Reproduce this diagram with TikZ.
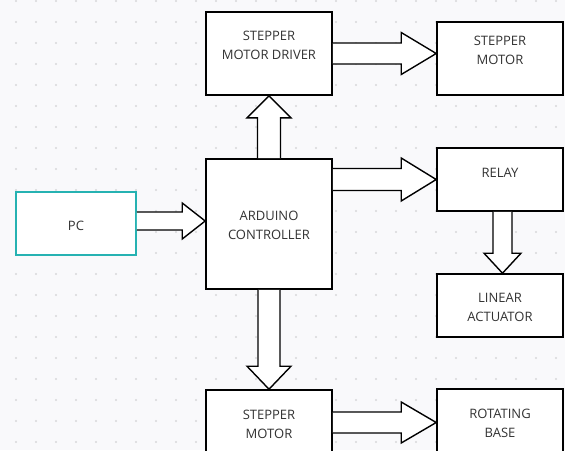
\documentclass[tikz,border=0pt]{standalone}
\usepackage{fontspec}
\setmainfont{Open Sans}
\usetikzlibrary{calc}

\definecolor{paper}{RGB}{249,249,251}
\definecolor{gridDot}{RGB}{215,215,218}
\definecolor{ink}{RGB}{51,51,51}
\definecolor{teal}{RGB}{38,178,178}

\tikzset{
    block/.style = {draw = black, line width = 1.6pt, fill = white, minimum width = 126pt, text = ink, align = center, font = \fontsize{13}{19}\selectfont, inner sep = 0pt},
    twoline/.style = {text height = 32pt},
    fatarrow/.style = {draw = black, line width = 1.4pt, fill = white, line join = miter}
}

% block arrow: from, to, shaft half width, head half width, head length
\newcommand{\fatarrow}[5]{%
    \coordinate (fa-h) at ($(#2)!#5!(#1)$);
    \draw[fatarrow] ($(#1)!#3!90:(#2)$) -- ($(fa-h)!#3!90:(#2)$) -- ($(fa-h)!#4!90:(#2)$) -- (#2)
        -- ($(fa-h)!#4!-90:(#2)$) -- ($(fa-h)!#3!-90:(#2)$) -- ($(#1)!#3!-90:(#2)$);
}

\begin{document}
\begin{tikzpicture}[x = 1pt, y = -1pt]
        \clip (0, 0) rectangle (565, 450);
        \fill[paper] (0, 0) rectangle (565, 450);
        \foreach \i in {0, ..., 27}
            \foreach \j in {0, ..., 21}
                \fill[gridDot] (16 + 20*\i, 1 + 21*\j) circle (1.1pt);

        \node[block, minimum height = 83pt, text depth = 17pt] (drv) at (269, 53.5) {STEPPER\\MOTOR DRIVER};
        \node[block, minimum height = 73pt, text depth = 16pt] (motor) at (500, 58.5) {STEPPER\\MOTOR};
        \node[block, draw = teal, minimum width = 120pt, minimum height = 63pt, text height = 15pt] (pc) at (76, 223.5) {PC};
        \node[block, twoline, minimum height = 130pt] (ard) at (269, 224) {ARDUINO\\CONTROLLER};
        \node[block, minimum height = 63pt, text depth = 13pt] (relay) at (500, 179.5) {RELAY};
        \node[block, twoline, minimum height = 63pt] (act) at (500, 305.5) {LINEAR\\ACTUATOR};
        \node[block, twoline, minimum height = 65pt] (stepper) at (269, 422.5) {STEPPER\\MOTOR};
        \node[block, twoline, minimum height = 66pt] (base) at (500, 422) {ROTATING\\BASE};

        \coordinate (pcout) at ([yshift = 2.5pt]pc.east);
        \coordinate (ardin) at (pcout -| ard.west);
        \coordinate (drvin) at (drv.east -| motor.west);
        \coordinate (ardout) at (relay.west -| ard.east);
        \coordinate (relayout) at ([xshift = 2.5pt]relay.south);
        \coordinate (actin) at (relayout |- act.north);
        \coordinate (basein) at (stepper.east -| base.west);

        \fatarrow{pcout}{ardin}{9pt}{18pt}{23pt}
        \fatarrow{ard.north}{drv.south}{11.5pt}{22pt}{22pt}
        \fatarrow{ard.south}{stepper.north}{11pt}{22pt}{23pt}
        \fatarrow{drv.east}{drvin}{10.5pt}{21pt}{35pt}
        \fatarrow{ardout}{relay.west}{11pt}{21.5pt}{35pt}
        \fatarrow{relayout}{actin}{9.5pt}{18.5pt}{20pt}
        \fatarrow{stepper.east}{basein}{10.5pt}{20.5pt}{35pt}
    \end{tikzpicture}
\end{document}
